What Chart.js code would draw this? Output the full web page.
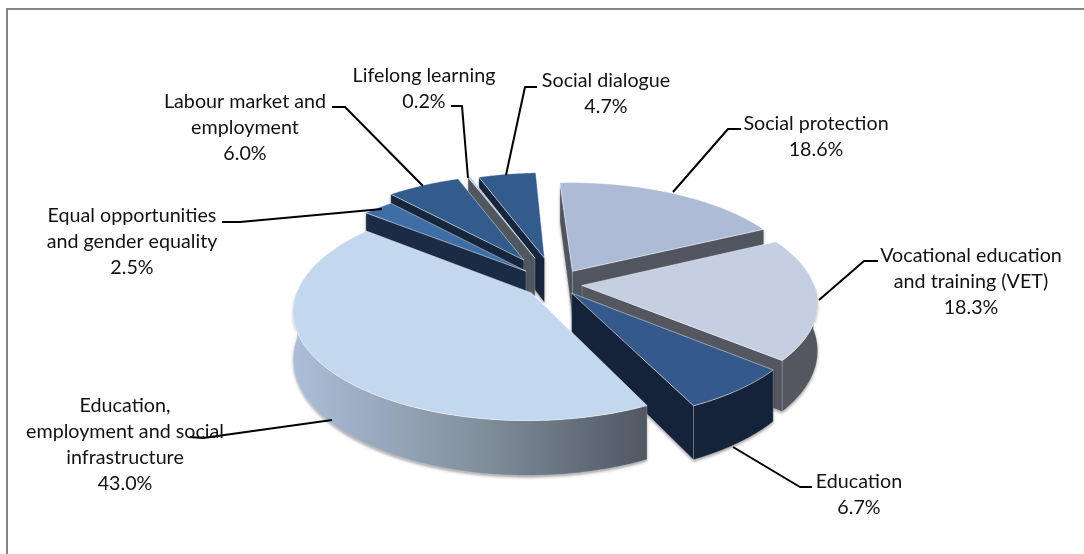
<!DOCTYPE html>
<html>
<head>
<meta charset="utf-8">
<script src="https://cdn.jsdelivr.net/npm/chart.js@4"></script>
<style>
html,body{margin:0;padding:0;background:#fff;overflow:hidden}
#wrap{position:relative;width:1084px;height:554px;overflow:hidden}
#frame{position:absolute;left:6px;top:8px;width:1200px;height:700px;border:2px solid #868686}
canvas{position:absolute;left:0;top:0}
</style>
</head>
<body>
<div id="wrap"><div id="frame"></div><canvas id="c" width="1084" height="554"></canvas></div>
<script>
const categories = ["Social protection","Vocational education and training (VET)","Education","Education, employment and social infrastructure","Equal opportunities and gender equality","Labour market and employment","Lifelong learning","Social dialogue"];
const shares = [18.6,18.3,6.7,43.0,2.5,6.0,0.2,4.7];
const explosion = [33,26,25,31,42,64,63,60];
const topColors = ["#adbbd7","#c6cee2","#34598a","#c3d7ee","#3f6ea6","#335b8c","#b9cbe0","#335b8c"];
const wallColors = ["#50555f","#54575f","#15233a","#15233a","#1a2c45","#16263f","#50585f","#17263c"];
const paintOrder = [7,6,5,4,0,1,2,3];
const labelLines = [
  ["Social protection","18.6%"],
  ["Vocational education","and training (VET)","18.3%"],
  ["Education","6.7%"],
  ["Education,","employment and social","infrastructure","43.0%"],
  ["Equal opportunities","and gender equality","2.5%"],
  ["Labour market and","employment","6.0%"],
  ["Lifelong learning","0.2%"],
  ["Social dialogue","4.7%"]
];
const labelAnchor = [[816,130],[971,262],[859,488],[125,412],[132,222],[245,108],[424,82],[606,87]];
const leaders = [
  [[741,129],[728,129],[673,192]],
  [[878,261],[864,261],[819,300]],
  [[812,487],[800,487],[733,447]],
  [[190,437],[203,438],[332,420]],
  [[222,222],[240,222],[382,209]],
  [[332,107],[345,107],[423,186]],
  [[451,106],[462,106],[468,178]],
  [[537,87],[525,87],[506,175]]
];
const TILT = 0.455, PERSP = 0.15, DEPTH = 46;
const FONT = '19.7px Lato', LINE = 26;

function poly(ctx, pts){ctx.beginPath();pts.forEach((p,i)=>i?ctx.lineTo(p[0],p[1]):ctx.moveTo(p[0],p[1]));ctx.closePath();}

const pie3d = {
  id:'pie3d',
  beforeDatasetDraw(chart){
    const ctx = chart.ctx, arcs = chart.getDatasetMeta(0).data;
    paintOrder.forEach(i=>{
      const a = arcs[i], R = a.outerRadius, cx = a.x, cy = a.y, off = a.options.offset;
      const mid = (a.startAngle+a.endAngle)/2, ox = Math.cos(mid)*off, oy = Math.sin(mid)*off;
      const sc = v => 1/(1-PERSP*v/R);
      const P = (u,v)=>{const s=sc(v);return [cx+u*s, cy+TILT*v*s];};
      const D = (u,v)=>{const p=P(u,v);return [p[0],p[1]+DEPTH*sc(v)];};
      const n = Math.max(2,Math.ceil((a.endAngle-a.startAngle)*60));
      const ring=[];
      for(let k=0;k<=n;k++){const t=a.startAngle+(a.endAngle-a.startAngle)*k/n;ring.push({t,u:ox+R*Math.cos(t),v:oy+R*Math.sin(t)});}
      const apexTop = P(ox,oy), apexBot = D(ox,oy);
      const midPt = P(ox+R*.5*Math.cos(mid),oy+R*.5*Math.sin(mid));
      ctx.save();
      const wallFill = i===3 ? (()=>{const g=ctx.createLinearGradient(296,0,650,0);g.addColorStop(0,'#abbdd8');g.addColorStop(.5,'#84919f');g.addColorStop(1,'#4e5762');return g;})() : wallColors[i];
      const paintWall = pts=>{
        ctx.save();
        ctx.shadowColor='rgba(0,0,0,.35)';ctx.shadowBlur=3;ctx.shadowOffsetY=2;
        poly(ctx,pts);ctx.fillStyle=wallFill;ctx.fill();ctx.restore();
        poly(ctx,pts);ctx.strokeStyle='rgba(255,255,255,.3)';ctx.lineWidth=.75;ctx.stroke();
      };
      [ring[0],ring[n]].forEach(e=>{
        const A=apexTop,B=P(e.u,e.v);
        if(Math.abs(B[0]-A[0])<1e-3) return;
        const yEdge=A[1]+(B[1]-A[1])*(midPt[0]-A[0])/(B[0]-A[0]);
        if(midPt[1]<yEdge) paintWall([A,B,D(e.u,e.v),apexBot]);
      });
      const vis = ring.filter(e=>Math.sin(e.t)>-0.03);
      if(vis.length>1){
        const pts=vis.map(e=>P(e.u,e.v)).concat(vis.slice().reverse().map(e=>D(e.u,e.v)));
        paintWall(pts);
      }
      const top=[apexTop].concat(ring.map(e=>P(e.u,e.v)));
      poly(ctx,top);ctx.fillStyle=topColors[i];ctx.fill();
      ctx.strokeStyle='rgba(255,255,255,.6)';ctx.lineWidth=.75;ctx.stroke();
      ctx.restore();
    });
    return false;
  },
  afterDraw(chart){
    const ctx = chart.ctx;
    ctx.save();
    ctx.strokeStyle='#000';ctx.lineWidth=2;ctx.lineJoin='round';
    leaders.forEach(l=>{ctx.beginPath();l.forEach((p,i)=>i?ctx.lineTo(p[0],p[1]):ctx.moveTo(p[0],p[1]));ctx.stroke();});
    ctx.fillStyle='#111';ctx.font=FONT;ctx.textAlign='center';ctx.textBaseline='alphabetic';
    labelLines.forEach((ls,i)=>ls.forEach((t,j)=>ctx.fillText(t,labelAnchor[i][0],labelAnchor[i][1]+j*LINE)));
    ctx.restore();
  }
};

new Chart(document.getElementById('c'),{
  type:'pie',
  data:{labels:categories,datasets:[{data:shares,backgroundColor:topColors,offset:explosion,borderWidth:0,clip:false}]},
  options:{
    responsive:false,animation:false,rotation:-3,radius:232,
    layout:{padding:{left:28,top:14}},
    plugins:{legend:{display:false},tooltip:{enabled:false}}
  },
  plugins:[pie3d]
});
</script>
</body>
</html>
